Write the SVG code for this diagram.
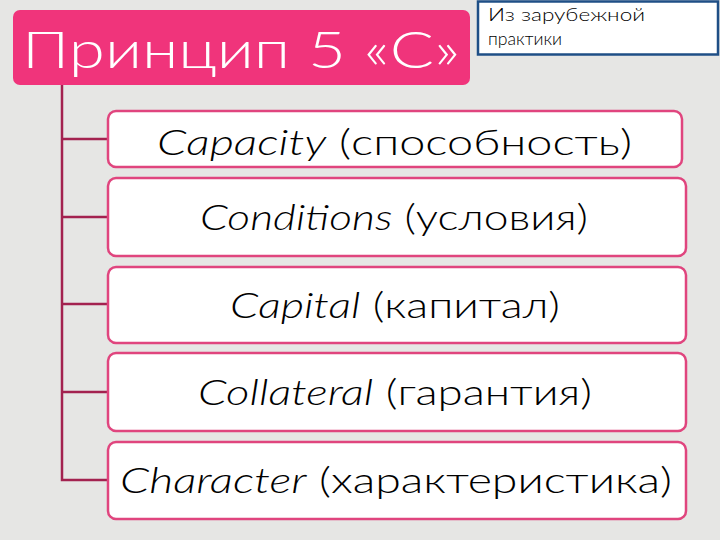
<svg xmlns="http://www.w3.org/2000/svg" width="720" height="540" viewBox="0 0 720 540">
<defs>
<style>
.bg{fill:#e6e6e4}
.node rect{fill:#ffffff;stroke:#e0457e;stroke-width:2.5}
.node text{font-family:Lato,"Liberation Sans",Arial,sans-serif;font-weight:300;font-size:36px;fill:#000;text-anchor:middle}
.it{font-style:italic}
.conn{fill:none;stroke:#a3224f;stroke-width:2.5}
.lbl{font-family:Lato,"Liberation Sans",Arial,sans-serif;font-weight:300}
</style>
<pattern id="tex" width="6" height="6" patternUnits="userSpaceOnUse">
<rect width="6" height="6" fill="#e4e4e2"/>
<rect x="1" y="2" width="1" height="1" fill="#d6d6d4"/>
<rect x="4" y="4" width="1" height="1" fill="#f0f0ee"/>
<rect x="3" y="0" width="1" height="1" fill="#dadad8"/>
</pattern>
</defs>
<rect class="bg" x="0" y="0" width="720" height="540" fill="url(#tex)"/>

<g id="connectors" class="conn">
<path d="M62 85 V480 H108"/>
<path d="M62 139 H108"/>
<path d="M62 217 H108"/>
<path d="M62 304 H108"/>
<path d="M62 392 H108"/>
</g>

<g id="header">
<rect x="13" y="10" width="457" height="75" rx="7" fill="#f0347b"/>
<text class="lbl" x="22" y="68" font-size="52" fill="#ffffff" textLength="438" lengthAdjust="spacingAndGlyphs">Принцип 5 «С»</text>
</g>

<g id="note">
<rect x="478" y="1.5" width="240" height="53" fill="#ffffff" stroke="#1f4f86" stroke-width="2.5"/>
<text class="lbl" x="488" y="21" font-size="18" fill="#000" textLength="157" lengthAdjust="spacingAndGlyphs">Из  зарубежной</text>
<text class="lbl" x="488" y="45" font-size="18" fill="#000" textLength="74" lengthAdjust="spacingAndGlyphs">практики</text>
</g>

<g id="capacity" class="node">
<rect x="108" y="111" width="574" height="56" rx="8"/>
<text x="394.5" y="155" textLength="475" lengthAdjust="spacingAndGlyphs"><tspan class="it">Capacity</tspan> (способность)</text>
</g>

<g id="conditions" class="node">
<rect x="108" y="178" width="578" height="78" rx="8"/>
<text x="394" y="230" textLength="388" lengthAdjust="spacingAndGlyphs"><tspan class="it">Conditions</tspan> (условия)</text>
</g>

<g id="capital" class="node">
<rect x="108" y="267" width="578" height="76" rx="8"/>
<text x="395" y="318" textLength="330" lengthAdjust="spacingAndGlyphs"><tspan class="it">Capital</tspan> (капитал)</text>
</g>

<g id="collateral" class="node">
<rect x="108" y="353" width="578" height="78" rx="8"/>
<text x="395" y="405" textLength="394" lengthAdjust="spacingAndGlyphs"><tspan class="it">Collateral</tspan> (гарантия)</text>
</g>

<g id="character" class="node">
<rect x="108" y="442" width="578" height="77" rx="8"/>
<text x="396" y="493" textLength="552" lengthAdjust="spacingAndGlyphs"><tspan class="it">Character</tspan> (характеристика)</text>
</g>
</svg>
